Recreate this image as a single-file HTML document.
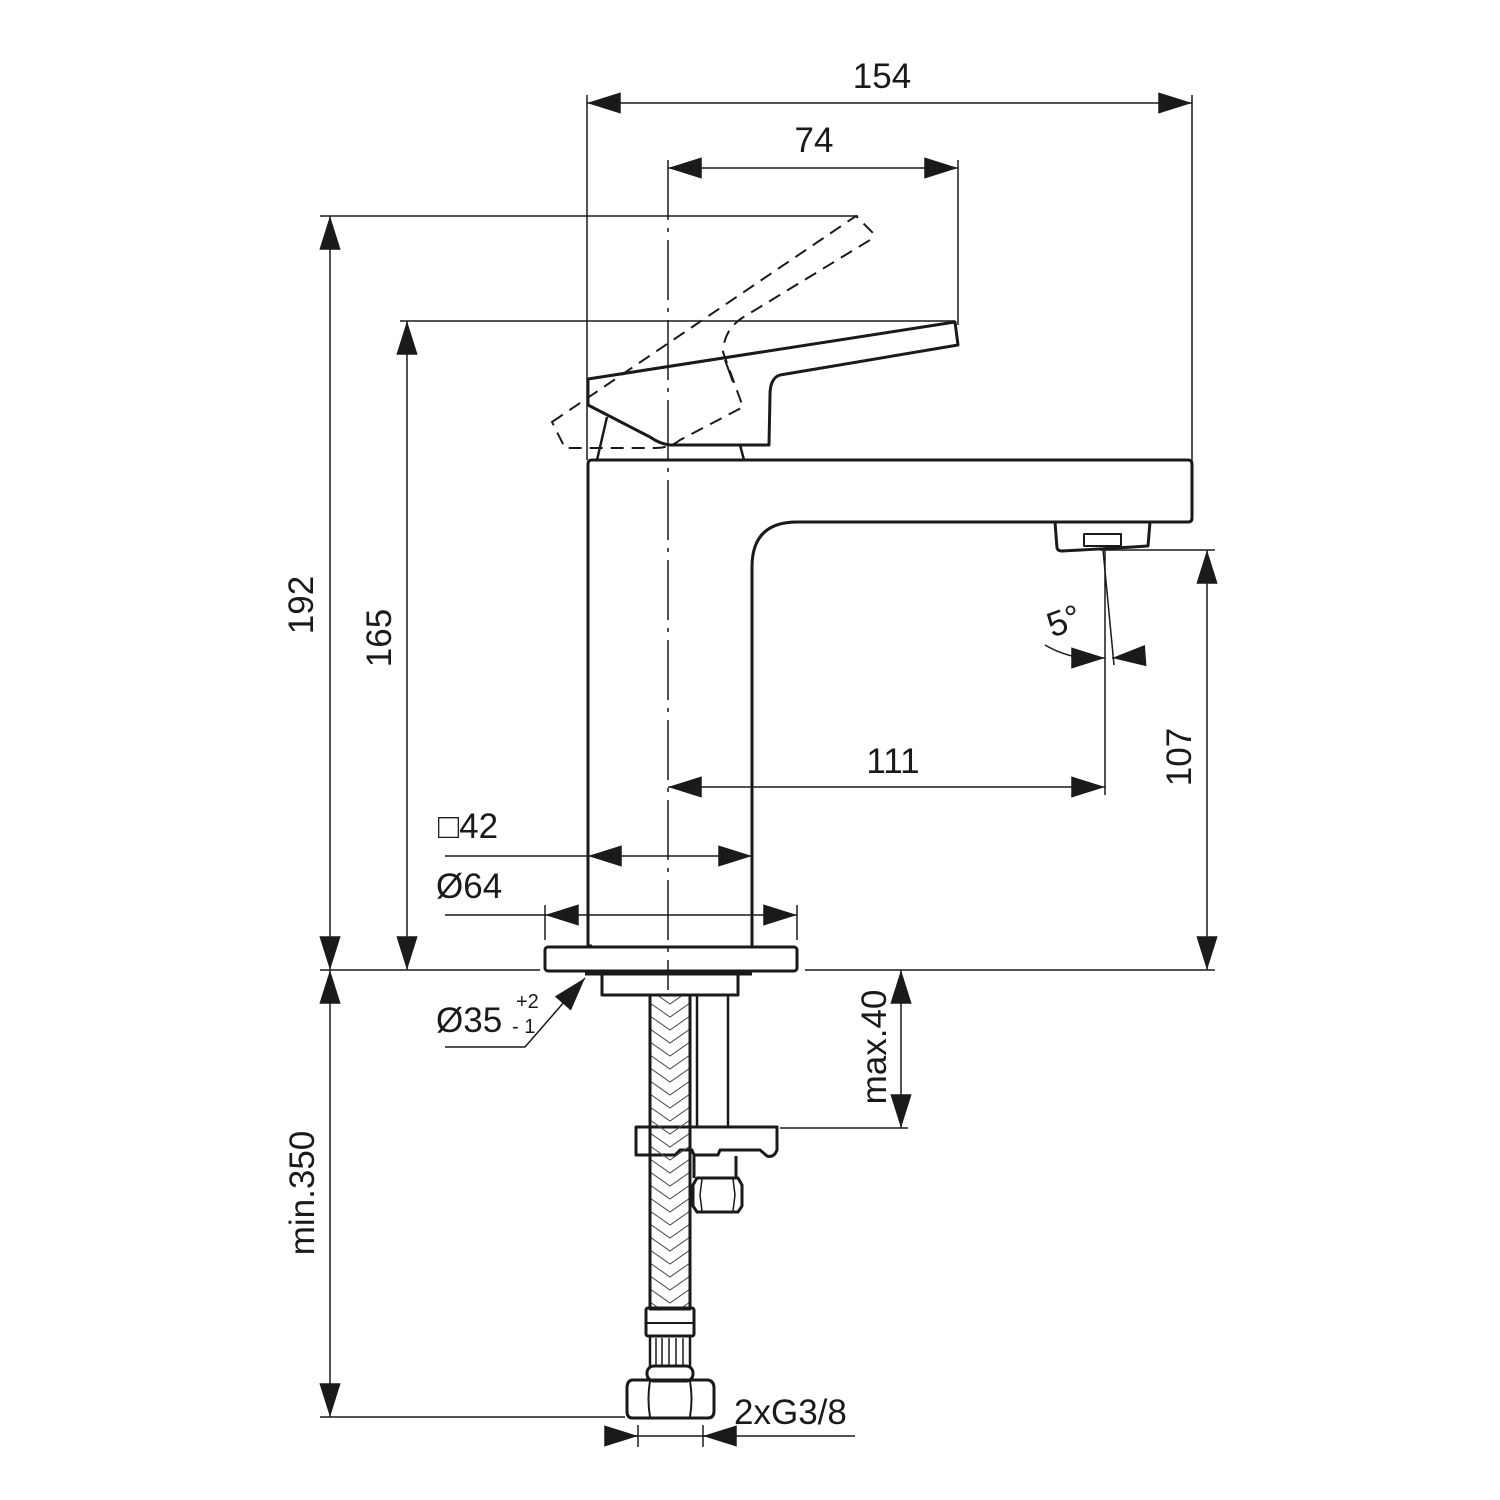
<!DOCTYPE html>
<html><head><meta charset="utf-8"><style>html,body{margin:0;padding:0;background:#fff}svg{display:block}</style></head>
<body>
<svg width="1500" height="1500" viewBox="0 0 1500 1500" xmlns="http://www.w3.org/2000/svg" font-family="Liberation Sans, Arial, sans-serif">
<defs>
<marker id="a" markerUnits="userSpaceOnUse" markerWidth="40" markerHeight="30" viewBox="-30 -10 32 20" refX="0" refY="0" orient="auto-start-reverse">
<path d="M0,0 L-27,-8.5 L-27,8.5Z" fill="#1a1a1a"/>
</marker>
<pattern id="br" patternUnits="userSpaceOnUse" x="650" y="0" width="40" height="26">
<path d="M0,2 L20,16 L40,2 M0,15 L20,29 L40,15 M0,-11 L20,3 L40,-11" stroke="#444" stroke-width="1" fill="none"/>
</pattern>
</defs>
<rect width="1500" height="1500" fill="#fff"/>
<g stroke="#1a1a1a" fill="none" stroke-width="1.5">
<line x1="587" y1="95" x2="587" y2="460"/>
<line x1="1192" y1="95" x2="1192" y2="460"/>
<line x1="958" y1="160" x2="958" y2="325"/>
<line x1="668" y1="160" x2="668" y2="990" stroke-dasharray="60,8,4,8"/>
<line x1="320" y1="216" x2="858" y2="216"/>
<line x1="400" y1="321" x2="955" y2="321"/>
<line x1="320" y1="970" x2="540" y2="970"/>
<line x1="805" y1="970" x2="1215" y2="970"/>
<line x1="320" y1="1417" x2="625" y2="1417"/>
<line x1="1100" y1="550" x2="1215" y2="550"/>
<line x1="780" y1="1128" x2="908" y2="1128"/>
<line x1="1105" y1="550" x2="1105" y2="795"/>
<line x1="1103" y1="550" x2="1114" y2="665"/>
<line x1="545" y1="905" x2="545" y2="940"/>
<line x1="797" y1="905" x2="797" y2="940"/>
<line x1="638" y1="1425" x2="638" y2="1447"/>
<line x1="703" y1="1425" x2="703" y2="1447"/>
<line x1="587" y1="103" x2="1192" y2="103" marker-start="url(#a)" marker-end="url(#a)"/>
<line x1="668" y1="168" x2="958" y2="168" marker-start="url(#a)" marker-end="url(#a)"/>
<line x1="330" y1="216" x2="330" y2="970" marker-start="url(#a)" marker-end="url(#a)"/>
<line x1="330" y1="970" x2="330" y2="1417" marker-start="url(#a)" marker-end="url(#a)"/>
<line x1="407" y1="321" x2="407" y2="970" marker-start="url(#a)" marker-end="url(#a)"/>
<line x1="1207" y1="550" x2="1207" y2="970" marker-start="url(#a)" marker-end="url(#a)"/>
<line x1="668" y1="787" x2="1105" y2="787" marker-start="url(#a)" marker-end="url(#a)"/>
<line x1="901" y1="970" x2="901" y2="1128" marker-start="url(#a)" marker-end="url(#a)"/>
<line x1="588" y1="856" x2="752" y2="856" marker-start="url(#a)" marker-end="url(#a)"/>
<line x1="445" y1="856" x2="588" y2="856"/>
<line x1="545" y1="915" x2="797" y2="915" marker-start="url(#a)" marker-end="url(#a)"/>
<line x1="445" y1="915" x2="545" y2="915"/>
<line x1="610" y1="1436" x2="855" y2="1436"/>
<path d="M610,1436 L638,1436" marker-end="url(#a)"/>
<path d="M730,1436 L703,1436" marker-end="url(#a)"/>
<path d="M1045,645 Q1062,655 1082,658"/>
<path d="M1075,658 L1105,658" marker-end="url(#a)"/>
<path d="M1140,656 L1112,658" marker-end="url(#a)"/>
<path d="M445,1047 L525,1047 L585,978" marker-end="url(#a)"/>
</g>
<g stroke="#1a1a1a" fill="none" stroke-width="3" stroke-linejoin="round">
<path d="M592,946 L588,946 L588,464 Q588,460 592,460 L1188,460 Q1192,460 1192,464 L1192,518 Q1192,522 1188,522 L797,522 Q752,522 752,567 L752,946"/>
<rect x="545" y="947" width="252" height="24" rx="3"/>
<line x1="585" y1="973" x2="752" y2="973" stroke-width="5"/>
<rect x="602" y="974" width="136" height="21"/>
<path d="M1055,522 L1057,548 Q1058,551 1062,551 Q1100,549 1148,546 L1150,522"/>
<rect x="1084" y="534" width="37" height="12" stroke-width="2"/>
<path d="M588,379 L955,322 L958,345 L780,375 Q770,378 770,395 L769,445 L670,445 Q660,444 650,437 L588,405 Z"/>
<path d="M725,360 L733,382" stroke-width="2"/>
<path d="M607,417 L597,460 M740,445 L744,460" stroke-width="2.5"/>
<path d="M697,995 L697,1128 M728,995 L728,1128" stroke-width="2.5"/>
<path d="M636,1127 L777,1127 L777,1150 Q774,1158 767,1156 L760,1150 L720,1150 L718,1155 L694,1155 L692,1150 L680,1150 L675,1155 L636,1155 Z"/>
<path d="M694,1156 L694,1178 M736,1156 L736,1178"/>
<path d="M697,1178 L738,1178 L742,1185 L742,1206 L738,1212 L697,1212 L693,1206 L693,1185 Z"/>
<path d="M702,1179 L700,1195 L702,1211 M733,1179 L735,1195 L733,1211" stroke-width="1.5"/>
<rect x="650" y="995" width="40" height="314" fill="url(#br)"/>
<rect x="650" y="1155" width="40" height="0"/>
<rect x="646" y="1308" width="48" height="28" rx="2"/>
<line x1="646" y1="1323" x2="694" y2="1323" stroke-width="2"/>
<path d="M650,1336 L650,1367 M690,1336 L690,1367" stroke-width="2.5"/>
<path d="M656,1338 L656,1366 M662,1338 L662,1366 M669,1338 L669,1366 M676,1338 L676,1366 M683,1338 L683,1366" stroke-width="1.5"/>
<rect x="647" y="1366" width="46" height="15" rx="7"/>
<path d="M632,1380 L708,1380 Q714,1381 714,1388 L714,1411 Q714,1418 708,1418 L632,1418 Q627,1418 627,1411 L627,1388 Q627,1381 632,1380 Z"/>
<path d="M650,1381 Q647,1399 650,1417 M690,1381 Q693,1399 690,1417" stroke-width="2"/>
</g>
<path d="M552,422 L856,216 L873,233 L870,240 L742,318 Q724,330 723,352 L743,407 L680,440 Q670,448 655,448 L565,448 Z" stroke="#1a1a1a" stroke-width="2" fill="none" stroke-dasharray="13,8"/>
<g fill="#1a1a1a" font-size="35">
<text x="882" y="88" text-anchor="middle">154</text>
<text x="814" y="152" text-anchor="middle">74</text>
<text x="893" y="773" text-anchor="middle">111</text>
<text x="438" y="838">□42</text>
<text x="436" y="898">Ø64</text>
<text x="436" y="1032">Ø35</text>
<text x="516" y="1008" font-size="20">+2</text>
<text x="512" y="1033" font-size="20">- 1</text>
<text x="734" y="1424">2xG3/8</text>
<text transform="translate(313,605) rotate(-90)" text-anchor="middle">192</text>
<text transform="translate(391,638) rotate(-90)" text-anchor="middle">165</text>
<text transform="translate(1191,757) rotate(-90)" text-anchor="middle">107</text>
<text transform="translate(314,1193) rotate(-90)" text-anchor="middle">min.350</text>
<text transform="translate(886,1047) rotate(-90)" text-anchor="middle">max.40</text>
<text transform="translate(1068,632) rotate(-20)" text-anchor="middle">5°</text>
</g>
</svg>
</body></html>
